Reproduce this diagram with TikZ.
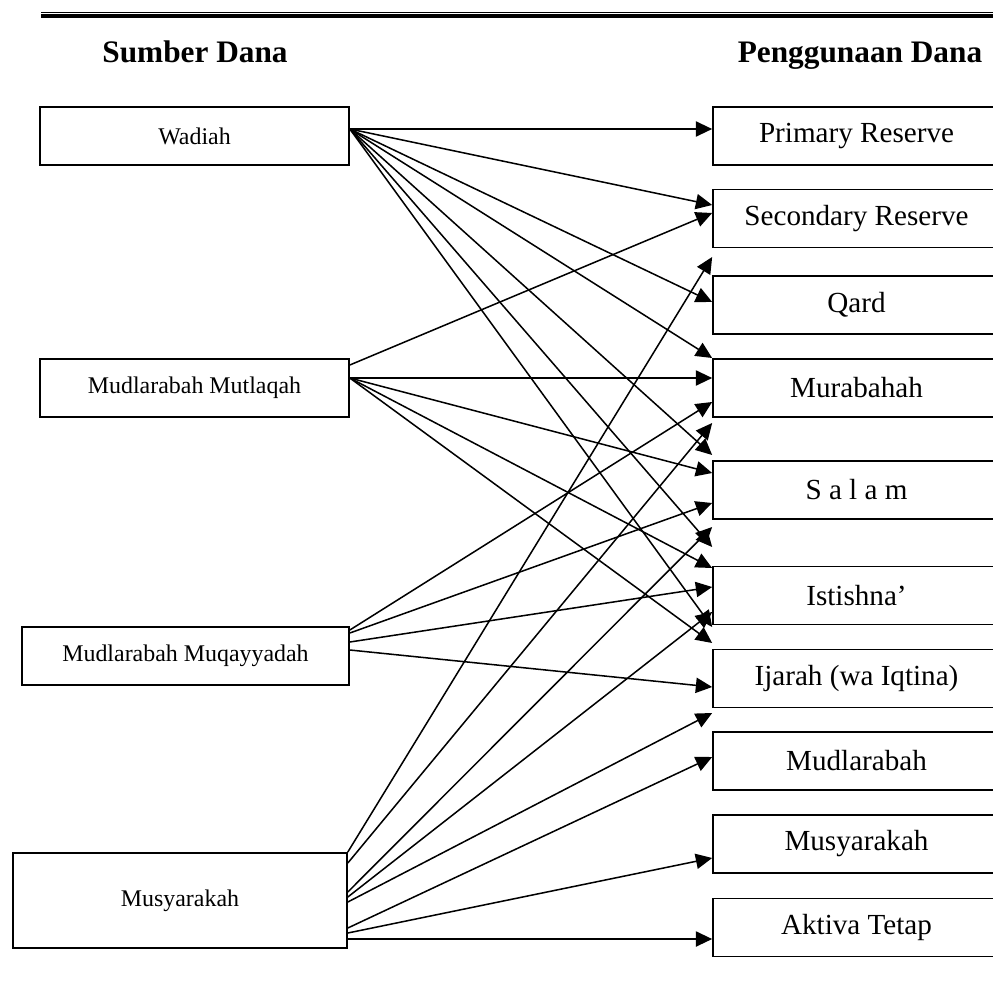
\documentclass[tikz,border=0pt]{standalone}
\usepackage{fontspec}
\setmainfont{Liberation Serif}
\usetikzlibrary{
    arrows.meta,
    calc
}
\tikzset{
    srcbox/.style={draw, line width=0.8pt, inner sep=0pt, font=\fontsize{11}{13}\selectfont},
    usebox/.style={draw, line width=0.8pt, inner sep=0pt, minimum width=132pt, minimum height=26.7pt, font=\fontsize{13.4}{15}\selectfont},
    head/.style={font=\fontsize{14.4}{17}\selectfont\bfseries},
    arr/.style={-{Triangle[length=7.5pt, width=7pt]}, line width=0.7pt}
}

\begin{document}
\begin{tikzpicture}[x=0.46pt, y=-0.46pt]
    \useasboundingbox (0, 0) rectangle (993, 993);

    % double rule on top
    \draw[line width=0.5pt] (41, 12.5) -- (1000, 12.5);
    \draw[line width=1.8pt] (41, 16) -- (1000, 16);

    \node[head, anchor=base] (hsrc) at (195, 62) {Sumber Dana};
    \node[head, anchor=base] (huse) at (860, 62) {Penggunaan Dana};

    % sumber dana
    \node[srcbox, minimum width=142.1pt, minimum height=26.7pt] (wad) at (194.5, 136) {Wadiah};
    \node[srcbox, minimum width=142.1pt, minimum height=26.7pt] (mutl) at (194.5, 388) {Mudlarabah Mutlaqah};
    \node[srcbox, minimum width=150.4pt, minimum height=26.7pt] (muqa) at (185.5, 656) {Mudlarabah Muqayyadah};
    \node[srcbox, minimum width=153.6pt, minimum height=43.7pt] (musy) at (180, 900.5) {Musyarakah};

    % penggunaan dana
    \foreach \n/\y/\t in {prim/136/Primary Reserve, seco/218.5/Secondary Reserve,
        qard/305/Qard, mura/388/Murabahah, sala/490/S a l a m, isti/595.5/Istishna’,
        ijar/678.5/Ijarah (wa Iqtina), mudl/761/Mudlarabah, mus2/844/Musyarakah,
        akti/927.5/Aktiva Tetap} {
        \node[usebox] (\n) at (856.5, \y) {\t};
    };

    % arrows
    \foreach \s/\a/\t/\b in {
        wad/-7/prim/-7, wad/-7/seco/-13.5, wad/-7/qard/-3, wad/-7/mura/-30,
        wad/-7/sala/-35, wad/-7/isti/-48.5, wad/-7/isti/31.5,
        mutl/-23/seco/-5.5, mutl/-10/mura/-10, mutl/-10/sala/-17,
        mutl/-10/isti/-27.5, mutl/-10/ijar/-35.5,
        muqa/-26/mura/14, muqa/-23/sala/13, muqa/-14/isti/-8.5, muqa/-6/ijar/8.5,
        musy/-48.5/seco/38.5, musy/-37.5/mura/35, musy/-8.5/sala/37,
        musy/-3.5/isti/16.5, musy/1.5/ijar/34.5, musy/27.5/mudl/-4,
        musy/32.5/mus2/14, musy/38.5/akti/11.5} {
        \draw[arr] ($(\s.east)+(0, \a)$) -- ($(\t.west)+(0, \b)$);
    };
\end{tikzpicture}
\end{document}
